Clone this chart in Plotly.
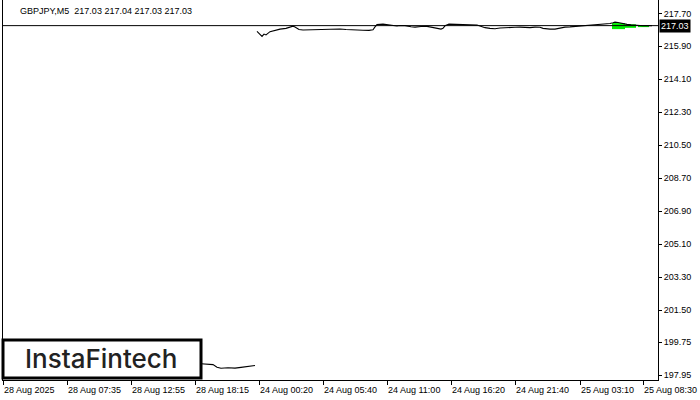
import plotly.graph_objects as go

# ---- data (bar index ~ 5-minute bars) ----
seg1_x = [198, 205, 210, 214, 218, 225, 232, 238, 244, 248, 252]
seg1_y = [198.57, 198.55, 198.52, 198.38, 198.32, 198.35, 198.33, 198.37, 198.40, 198.44, 198.47]

seg2_x = [254, 256, 258, 259, 261, 263, 267, 272, 277, 283, 287, 290, 292, 296, 300, 305,
          312, 318, 324, 330, 337, 343, 350, 355, 360, 366, 370, 372, 374, 380, 385, 390,
          394, 397, 402, 408, 412, 418, 424, 428, 432, 435, 438, 440, 442, 446, 452, 458,
          464, 470, 474, 477, 482, 487, 492, 497, 502, 507, 512, 517, 522, 527, 532, 537,
          540, 544, 547, 552, 557, 562, 567, 572, 577, 582, 587, 592, 597, 602, 607, 610,
          612, 615, 617, 620, 624, 628, 632, 636, 640, 644, 648, 649]
seg2_y = [216.72, 216.62, 216.50, 216.44, 216.57, 216.52, 216.70, 216.79, 216.84, 216.88, 216.95,
          217.00, 216.96, 216.82, 216.79, 216.80, 216.81, 216.83, 216.84, 216.86, 216.85, 216.82,
          216.79, 216.79, 216.78, 216.77, 216.80, 216.96, 217.09, 217.11, 217.08, 217.06, 217.01,
          217.04, 217.03, 216.97, 216.95, 216.98, 216.99, 216.95, 216.90, 216.84, 216.84, 216.88,
          217.02, 217.11, 217.10, 217.06, 217.06, 217.05, 217.06, 217.01, 216.92, 216.88, 216.86,
          216.90, 216.90, 216.92, 216.94, 216.95, 216.93, 216.92, 216.95, 216.94, 216.88, 216.85,
          216.84, 216.84, 216.91, 216.95, 216.96, 216.98, 217.00, 217.03, 217.05, 217.07, 217.11,
          217.14, 217.15, 217.19, 217.22, 217.20, 217.17, 217.13, 217.10, 217.07, 217.04, 217.05,
          217.02, 217.03, 217.03, 217.03]

last_price = 217.03
symbol_title = "GBPJPY,M5\u00a0\u00a0217.03 217.04 217.03 217.03"

# green pattern zones: (x start, x end, low, high)
zone_x0 = [609, 622, 635]
zone_x1 = [622, 633, 646]
zone_lo = [216.84, 216.91, 216.95]
zone_hi = [217.17, 217.10, 217.06]

price_ticks = [217.70, 215.90, 214.10, 212.30, 210.50, 208.70, 206.90, 205.10,
               203.30, 201.50, 199.75, 197.95]
time_tick_pos = [0, 64, 128, 192, 256, 320, 384, 448, 512, 577, 640]
time_tick_lbl = ["28 Aug 2025", "28 Aug 07:35", "28 Aug 12:55", "28 Aug 18:15",
                 "24 Aug 00:20", "24 Aug 05:40", "24 Aug 11:00", "24 Aug 16:20",
                 "24 Aug 21:40", "25 Aug 03:10", "25 Aug 08:30"]

FONT = "Liberation Sans, Arial, sans-serif"

fig = go.Figure()

for x0, x1, lo, hi in zip(zone_x0, zone_x1, zone_lo, zone_hi):
    fig.add_trace(go.Scatter(x=[x0, x1, x1, x0, x0], y=[lo, lo, hi, hi, lo],
                             mode="lines", fill="toself", fillcolor="#00ee00",
                             line=dict(width=0, color="#00ee00"), hoverinfo="skip",
                             showlegend=False))

fig.add_trace(go.Scatter(x=[0, 655], y=[last_price, last_price], mode="lines",
                         line=dict(color="black", width=1), showlegend=False,
                         hoverinfo="skip"))

fig.add_trace(go.Scatter(x=seg1_x, y=seg1_y, mode="lines",
                         line=dict(color="black", width=1.1), showlegend=False))
fig.add_trace(go.Scatter(x=seg2_x, y=seg2_y, mode="lines",
                         line=dict(color="black", width=1.1), showlegend=False))

annotations = []
for pos, lbl in zip(time_tick_pos, time_tick_lbl):
    annotations.append(dict(x=pos, xref="x", y=0, yref="paper", text=lbl,
                            showarrow=False, xanchor="left", yanchor="top",
                            xshift=-1, yshift=-3,
                            font=dict(family=FONT, size=9, color="black")))

annotations.append(dict(x=15, xref="x", y=1, yref="paper", yshift=-4, text=symbol_title,
                        showarrow=False, xanchor="left", yanchor="top",
                        font=dict(family=FONT, size=9, color="black")))

annotations.append(dict(x=1, xref="paper", y=last_price, yref="y", text=f"{last_price:.2f}",
                        showarrow=False, xanchor="left", yanchor="middle", xshift=1,
                        bgcolor="black", borderpad=1,
                        font=dict(family=FONT, size=9, color="white")))

annotations.append(dict(x=0.151, xref="paper", y=0.057, yref="paper", text="InstaFintech",
                        showarrow=False, xanchor="center", yanchor="middle",
                        font=dict(family="Inter, Lato, sans-serif", size=26, color="#222222",
                                  weight=500)))

fig.update_layout(
    width=700, height=400,
    margin=dict(l=3, r=42, t=0, b=20, autoexpand=False),
    paper_bgcolor="white", plot_bgcolor="white",
    showlegend=False,
    xaxis=dict(range=[0, 655], showgrid=False, zeroline=False, showline=True,
               linecolor="black", linewidth=1, mirror=False, ticks="outside",
               ticklen=4, tickcolor="black", tickvals=time_tick_pos,
               showticklabels=False, fixedrange=True),
    yaxis=dict(range=[197.68, 218.43], side="right", showgrid=False, zeroline=False,
               showline=True, linecolor="black", linewidth=1, mirror=True,
               ticks="outside", ticklen=3, tickcolor="black",
               tickvals=price_ticks, ticktext=[f"{v:.2f}" for v in price_ticks],
               tickfont=dict(family=FONT, size=9, color="black"), fixedrange=True),
    shapes=[dict(type="rect", xref="paper", yref="paper", x0=0.0, x1=0.3023,
                 y0=0.005, y1=0.105, line=dict(color="black", width=3),
                 fillcolor="white", layer="above")],
    annotations=annotations,
)

fig.write_html("out.html", config={"displayModeBar": False},
               post_script="document.body.style.margin='0';document.body.style.padding='0';")
